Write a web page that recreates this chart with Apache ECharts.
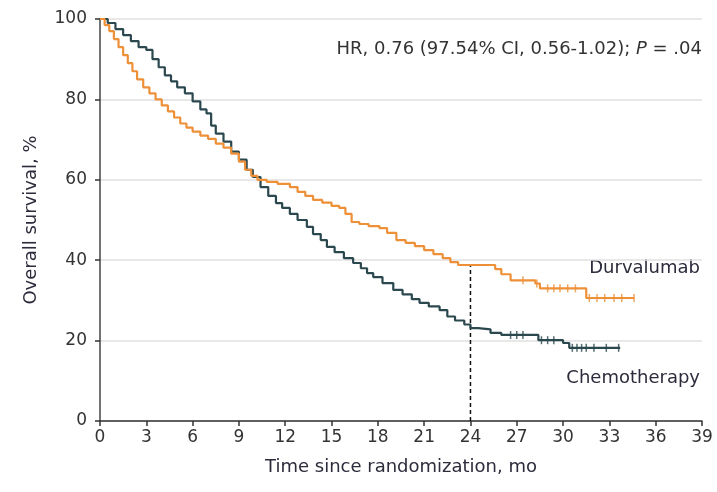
<!DOCTYPE html>
<html>
<head>
<meta charset="utf-8">
<script src="https://cdn.jsdelivr.net/npm/echarts@6/dist/echarts.min.js"></script>
<style>
  html, body { margin: 0; padding: 0; background: #fff; }
  #chart { width: 717px; height: 492px; }
</style>
</head>
<body>
<div id="chart"></div>
<script>
// Kaplan-Meier estimates: [month, overall survival %]
const durvalumab = [
  [0, 100], [0.3, 98.5], [0.6, 97], [0.9, 95], [1.2, 93], [1.5, 91], [1.8, 89],
  [2.1, 87], [2.4, 85], [2.8, 83], [3.2, 81.5], [3.6, 80], [4.0, 78.5], [4.4, 77],
  [4.8, 75.5], [5.2, 74], [5.6, 73], [6.0, 72], [6.5, 71], [7.0, 70.2], [7.5, 69],
  [8.0, 68], [8.5, 66.5], [9.0, 64.5], [9.4, 62.5], [9.8, 61], [10.2, 60],
  [10.8, 59.5], [11.5, 59], [12.3, 58.2], [12.8, 57], [13.3, 56], [13.8, 55],
  [14.4, 54.3], [15.0, 53.5], [15.5, 53], [15.9, 51.5], [16.3, 49.5], [16.8, 49],
  [17.4, 48.5], [18.1, 48], [18.6, 46.8], [19.2, 45], [19.8, 44.3], [20.4, 43.5],
  [21.0, 42.5], [21.6, 41.5], [22.2, 40.5], [22.7, 39.5], [23.2, 38.8], [25.2, 38.8],
  [25.6, 37.8], [26.0, 36.5], [26.6, 35], [28.2, 34.2], [28.5, 33], [31.3, 33],
  [31.5, 30.6], [34.6, 30.6]
];
const chemotherapy = [
  [0, 100], [0.5, 99], [1.0, 97.5], [1.5, 96], [2.0, 94.5], [2.5, 93], [3.0, 92.3],
  [3.4, 90], [3.8, 88], [4.2, 86], [4.6, 84.5], [5.0, 83], [5.5, 81.5], [6.0, 79.5],
  [6.5, 77.5], [6.9, 76.5], [7.2, 73.5], [7.5, 71.5], [8.0, 69.5], [8.5, 67],
  [9.0, 65], [9.5, 62.5], [9.9, 60.7], [10.4, 58.2], [10.9, 56], [11.4, 54.2],
  [11.8, 53], [12.3, 51.5], [12.8, 50], [13.4, 48.3], [13.8, 46.5], [14.3, 45],
  [14.7, 43.3], [15.2, 42], [15.8, 40.5], [16.4, 39.3], [16.9, 38], [17.3, 36.8],
  [17.7, 35.8], [18.3, 34.3], [19.0, 32.6], [19.6, 31.5], [20.2, 30.3], [20.7, 29.4],
  [21.3, 28.5], [22.0, 27.6], [22.5, 26], [23.0, 25], [23.6, 24], [24.0, 23.1],
  [24.5, 22.8], [25.3, 21.9], [26.0, 21.4], [28.2, 21.4], [28.4, 20.1], [29.8, 20.1],
  [30.0, 19.4], [30.4, 18.2], [33.7, 18.2]
];
// censored observations
const durvalumabCensored = [
  [27.4, 35], [28.3, 34.2], [29.0, 33], [29.4, 33], [29.8, 33], [30.3, 33], [30.8, 33],
  [31.7, 30.6], [32.2, 30.6], [32.7, 30.6], [33.3, 30.6], [33.8, 30.6], [34.6, 30.6]
];
const chemotherapyCensored = [
  [26.6, 21.4], [27.0, 21.4], [27.4, 21.4], [28.6, 20.1], [29.0, 20.1], [29.4, 20.1],
  [30.6, 18.2], [30.9, 18.2], [31.2, 18.2], [31.5, 18.2], [32.0, 18.2], [32.8, 18.2],
  [33.6, 18.2]
];
const landmark = [[24, 0], [24, 38.8]];
const xTicks = [0, 3, 6, 9, 12, 15, 18, 21, 24, 27, 30, 33, 36, 39];
const yTicks = [0, 20, 40, 60, 80, 100];

const ORANGE = "#ee9038";
const TEAL = "#2b484e";
const FONT = "DejaVu Sans";
const TEXT = "#2c2c3c";

const chart = echarts.init(document.getElementById("chart"));

chart.setOption({
  backgroundColor: "#ffffff",
  animation: false,
  textStyle: { fontFamily: FONT },
  grid: { left: 100, right: 15, top: 19, bottom: 71 },
  xAxis: {
    type: "value",
    min: xTicks[0],
    max: xTicks[xTicks.length - 1],
    interval: 3,
    name: "Time since randomization, mo",
    nameLocation: "middle",
    nameGap: 37,
    nameTextStyle: { fontSize: 18, color: TEXT, fontFamily: FONT },
    axisLine: { lineStyle: { color: "#333", width: 1.5 } },
    axisTick: { show: true, length: 5, lineStyle: { color: "#333", width: 1.5 } },
    axisLabel: { fontSize: 17, color: "#333", margin: 8 },
    splitLine: { show: false }
  },
  yAxis: {
    type: "value",
    min: yTicks[0],
    max: yTicks[yTicks.length - 1],
    interval: 20,
    name: "Overall survival, %",
    nameLocation: "middle",
    nameGap: 60,
    nameTextStyle: { fontSize: 18, color: TEXT, fontFamily: FONT },
    axisLine: { show: true, lineStyle: { color: "#444", width: 1.5 } },
    axisTick: { show: true, length: 5, lineStyle: { color: "#333", width: 1.5 } },
    axisLabel: { fontSize: 17, color: "#333", margin: 13 },
    splitLine: { show: true, lineStyle: { color: "#e0e0e0", width: 1.5 } }
  },
  graphic: [
    {
      type: "text", right: 15, top: 40,
      style: {
        text: "HR, 0.76 (97.54% CI, 0.56-1.02); {i|P} = .04",
        rich: { i: { fontStyle: "italic", fontSize: 18, fontFamily: FONT, fill: "#333" } },
        font: "18px '" + FONT + "'", fill: "#333"
      }
    },
    {
      type: "text", right: 17, top: 259,
      style: { text: "Durvalumab", font: "18px '" + FONT + "'", fill: TEXT }
    },
    {
      type: "text", right: 17, top: 369,
      style: { text: "Chemotherapy", font: "18px '" + FONT + "'", fill: TEXT }
    }
  ],
  series: [
    {
      name: "Chemotherapy",
      type: "line",
      step: "end",
      data: chemotherapy,
      showSymbol: false,
      lineStyle: { color: TEAL, width: 2.2 },
      z: 3
    },
    {
      name: "Durvalumab",
      type: "line",
      step: "end",
      data: durvalumab,
      showSymbol: false,
      lineStyle: { color: ORANGE, width: 2.2 },
      z: 4
    },
    {
      type: "scatter",
      data: chemotherapyCensored,
      symbol: "rect",
      symbolSize: [1.5, 8],
      itemStyle: { color: TEAL },
      z: 3
    },
    {
      type: "scatter",
      data: durvalumabCensored,
      symbol: "rect",
      symbolSize: [1.5, 8],
      itemStyle: { color: ORANGE },
      z: 4
    },
    {
      type: "line",
      data: landmark,
      showSymbol: false,
      lineStyle: { color: "#111", width: 1.5, type: [4, 3] },
      z: 2
    }
  ]
});
</script>
</body>
</html>
